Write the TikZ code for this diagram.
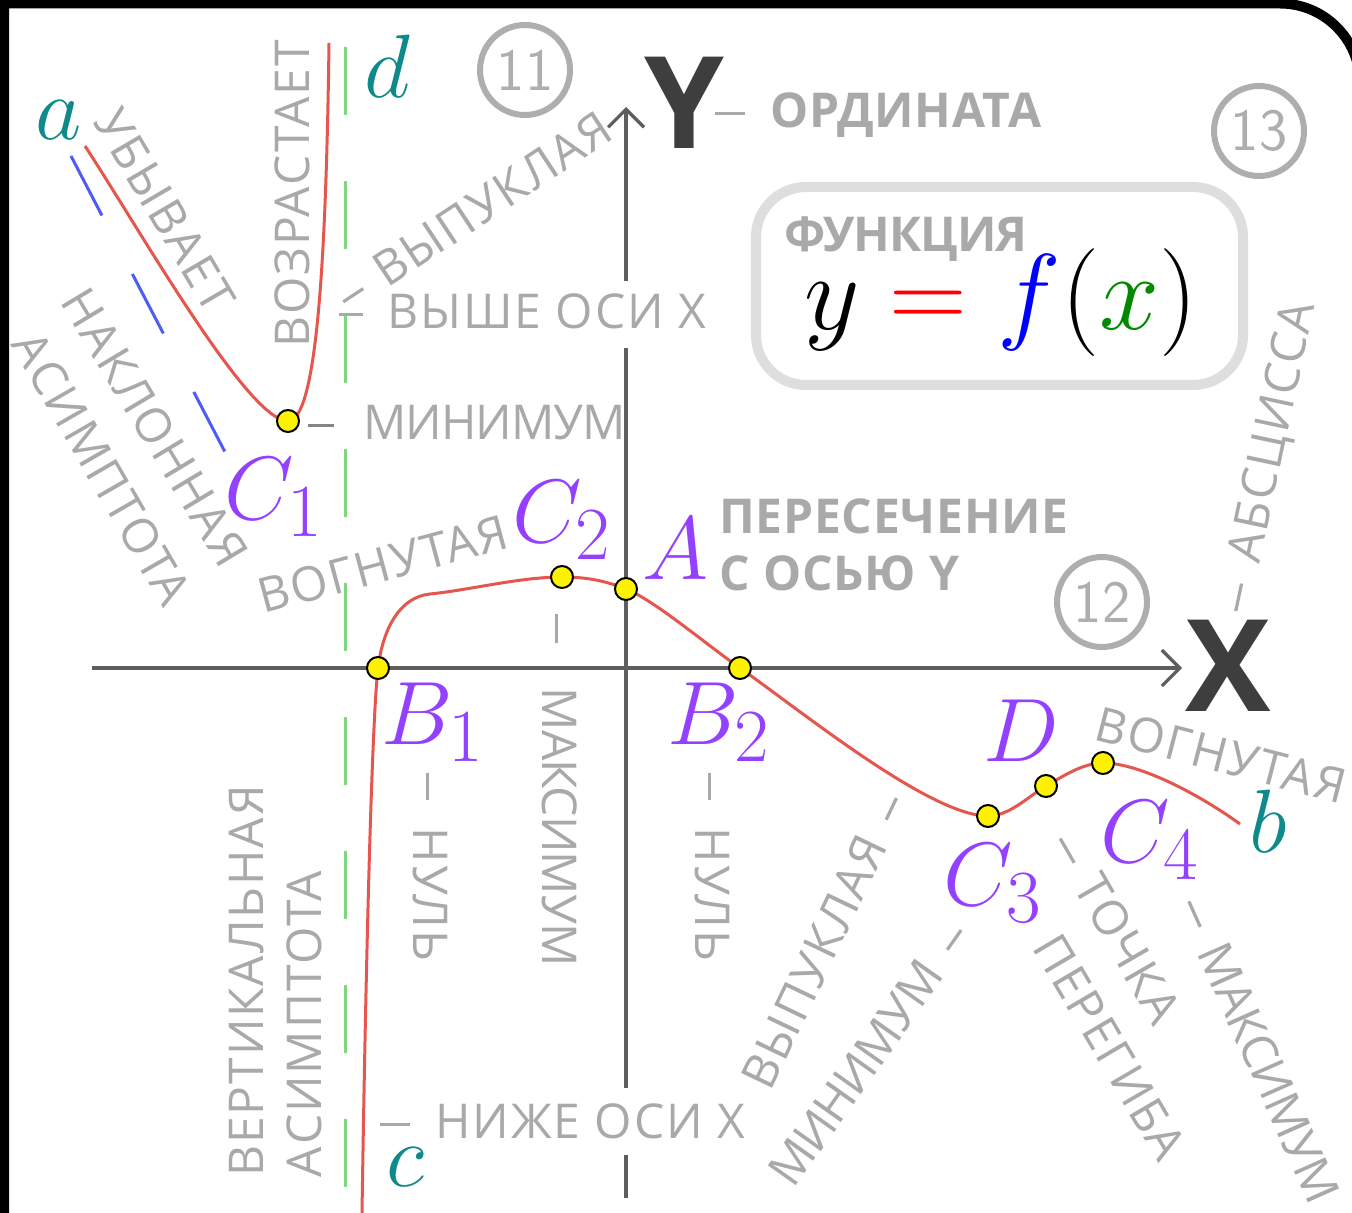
\documentclass[tikz,border=0pt]{standalone}
\usepackage{graphicx}
\usepackage{fontspec}
\usetikzlibrary{arrows.meta}
\newfontfamily\lf{Open Sans}[LetterSpace=4]
\newfontfamily\lfb{Open Sans}[LetterSpace=1.5]
\DeclareMathSizes{20.74}{20.74}{16.6}{12}
\newcommand\mbig[2]{\scalebox{#1}{\fontsize{20.74}{24}\selectfont$#2$}}
% dash drawn as a rule: \dr{length}{gap after}
\newcommand\dr[2]{\rule[6pt]{#1}{1.6pt}\hspace{#2}}
\newcommand\rd[2]{\hspace{#2}\rule[6pt]{#1}{1.6pt}}
\newcommand\mw[1]{{\addfontfeatures{LetterSpace=-2}#1}}
\definecolor{labgray}{HTML}{A9A9A9}
\definecolor{dashdark}{HTML}{858585}
\definecolor{circgray}{HTML}{AEAEAE}
\definecolor{axgray}{HTML}{5E5E5E}
\definecolor{axdark}{HTML}{3E3E3E}
\definecolor{curvered}{HTML}{E5564E}
\definecolor{asgreen}{HTML}{80D680}
\definecolor{asblue}{HTML}{4C5CF5}
\definecolor{tealc}{HTML}{0F8A8A}
\definecolor{purp}{HTML}{9440FF}
\definecolor{boxgray}{HTML}{DEDEDE}
\definecolor{fgreen}{HTML}{008A00}
\tikzset{
  lab/.style={text=labgray, font=\lf\fontsize{24}{33}\selectfont, inner sep=0pt, text height=17.2pt, text depth=0pt},
  labb/.style={lab, font=\lfb\bfseries\fontsize{24}{33}\selectfont},
  mth/.style={inner sep=0pt},
  tl/.style={mth, text=tealc},
  pl/.style={mth, text=purp},
  dot/.style={circle, fill=yellow, draw=black, line width=1pt, minimum size=11pt, inner sep=0pt},
  numc/.style={circle, draw=circgray, line width=3pt, minimum size=45pt, inner sep=0pt, text=circgray, font=\sffamily\fontsize{30}{30}\selectfont},
  axl/.style={text=axdark, font=\lf\bfseries\fontsize{64}{64}\selectfont, inner sep=0pt},
  axis/.style={draw=axgray, line width=2pt},
  axarrow/.style={axis, -{Straight Barb[length=9pt,width=18pt,line width=1.6pt]}},
  fn/.style={draw=curvered, line width=1.5pt},
}
\begin{document}
\begin{tikzpicture}[x=0.5pt, y=-0.5pt]
\useasboundingbox (0,0) rectangle (1352,1213);
\fill[white] (0,0) rectangle (1352,1213);
% frame
\draw[line width=5pt, black] (4,1230) -- (4,3.5) -- (1280,3.5) arc[start angle=90, end angle=0, radius=40pt];

% asymptotes
\coordinate (gv0) at (345,47);
\coordinate (gv1) at (345,1213);
\draw[draw=asgreen, line width=1.5pt, dash pattern=on 34pt off 33pt] (gv0) -- (gv1);
\coordinate (bl0) at (71,156);
\coordinate (bl1) at (225,452);
\draw[draw=asblue, line width=1.5pt, dash pattern=on 33.5pt off 33pt] (bl0) -- (bl1);

% axes
\coordinate (xa0) at (92,668);
\coordinate (xa1) at (1182,668);
\draw[axarrow] (xa0) -- (xa1);
\coordinate (ya0) at (626,1198);
\coordinate (ya1) at (626,1155);
\coordinate (ya2) at (626,1088);
\coordinate (ya3) at (626,348);
\coordinate (ya4) at (626,281);
\coordinate (ya5) at (626,107);
\draw[axis] (ya0) -- (ya1);
\draw[axis] (ya2) -- (ya3);
\draw[axarrow] (ya4) -- (ya5);

% curve points
\coordinate (pa) at (85,146);
\coordinate (pC1) at (288,421);
\coordinate (pd) at (329,43);
\coordinate (pc) at (362,1213);
\coordinate (pB1) at (378,668);
\coordinate (pk) at (430,594);
\coordinate (pC2) at (562,577);
\coordinate (pA) at (626,589);
\coordinate (pB2) at (740,668);
\coordinate (pC3) at (988,816);
\coordinate (pD) at (1046,786);
\coordinate (pC4) at (1103,763);
\coordinate (pb) at (1240,824);

\draw[fn] (pa) .. controls (140,230) and (248,421) .. (pC1)
             .. controls (316,421) and (326,270) .. (pd);
\draw[fn] (pc) .. controls (366,950) and (372,720) .. (pB1)
             .. controls (383,628) and (400,597) .. (pk)
             .. controls (470,590) and (520,577) .. (pC2)
             .. controls (590,577) and (608,582) .. (pA)
             .. controls (654,600) and (707,645) .. (pB2)
             .. controls (800,710) and (930,816) .. (pC3)
             .. controls (1010,816) and (1030,795) .. (pD)
             .. controls (1062,777) and (1082,763) .. (pC4)
             .. controls (1140,763) and (1200,795) .. (pb);

% box
\node[draw=boxgray, line width=5pt, rounded corners=25pt, minimum width=243.5pt, minimum height=99pt, inner sep=0pt] (fbox) at (999.5,286) {};
\node[labb, anchor=west] (funk) at (784,234.5) {{\addfontfeatures{LetterSpace=-2}ФУНКЦИЯ}};
\node[inner sep=0pt] (formula) at (1001,303)
  {\mbig{2.6}{y \mathrel{\textcolor{red}{=}} \textcolor{blue}{f}(\textcolor{fgreen}{x})}};

% circled numbers
\node[numc] (n11) at (525,70) {11};
\node[numc] (n13) at (1259,131) {13};
\node[numc] (n12) at (1102,602) {12};

% axis letters
\node[axl] (Ylab) at (684,103) {Y};
\node[axl] (Xlab) at (1228,666) {X};

% labels
\node[labb, anchor=west] (ordin) at (715,110) {\dr{15pt}{12.5pt}ОРДИНАТА};
\node[labb, anchor=west] (peres) at (719,516.5) {ПЕРЕСЕЧЕНИЕ};
\node[labb, anchor=west] (sosyu) at (719,573.5) {С ОСЬЮ Y};
\node[lab, anchor=west] (vyshe) at (339,311) {\dr{12pt}{12pt}ВЫШЕ ОСИ X};
\node[lab, rotate=33.5] (vypuk1) at (474,211) {\dr{12pt}{10pt}ВЫПУКЛАЯ};
\node[lab, rotate=90] (vozr) at (292,194) {ВОЗРАСТАЕТ};
\node[lab, rotate=-59.5] (ubyv) at (165,210) {УБЫВАЕТ};
\node[lab, rotate=-59] (nakl) at (155,427) {НАКЛОННАЯ};
\node[lab, rotate=-60] (asim1) at (102,468) {АСИМПТОТА};
\node[lab, anchor=west] (min1) at (308,422) {\textcolor{dashdark}{\dr{13pt}{14.5pt}}\mw{МИНИМУМ}};
\node[lab, rotate=15] (vogn1) at (383,564) {ВОГНУТАЯ};
\node[lab, rotate=90] (vert) at (246,981) {ВЕРТИКАЛЬНАЯ};
\node[lab, rotate=90] (asim2) at (304,1024) {АСИМПТОТА};
\node[lab, rotate=-90] (nul1) at (431,867) {\dr{13.5pt}{14pt}НУЛЬ};
\node[lab, rotate=-90] (max1) at (560,790) {\dr{14.5pt}{22.5pt}\mw{МАКСИМУМ}};
\node[lab, rotate=-90] (nul2) at (713,867) {\dr{13.5pt}{14pt}НУЛЬ};
\node[lab, anchor=west] (nizhe) at (380,1121) {\dr{15pt}{12.5pt}НИЖЕ ОСИ X};
\node[lab, rotate=64.4] (vypuk2) at (824,941) {ВЫПУКЛАЯ\rd{12pt}{11pt}};
\node[lab, rotate=54.7] (min2) at (869,1054) {\mw{МИНИМУМ}\rd{12pt}{11pt}};
\node[lab, rotate=-14.5] (vogn2) at (1221,755) {ВОГНУТАЯ};
\node[lab, rotate=-60] (tochka) at (1116,928) {\dr{14pt}{10pt}ТОЧКА};
\node[lab, rotate=-59.5] (peregib) at (1110,1047) {ПЕРЕГИБА};
\node[lab, rotate=-66] (max2) at (1259,1050) {\dr{14pt}{11pt}\mw{МАКСИМУМ}};
\node[lab, rotate=78] (absc) at (1265,456) {\dr{14pt}{11pt}АБСЦИССА};

% math letters
\node[tl] (la) at (59,120) {\mbig{2.17}{a}};
\node[tl] (ld) at (387,66) {\mbig{2.17}{d}};
\node[tl] (lc) at (405,1167) {\mbig{2.17}{c}};
\node[tl] (lb) at (1268,821) {\mbig{2.17}{b}};
\node[pl] (lC1) at (274,497) {\mbig{2.17}{C_1}};
\node[pl] (lC2) at (562,520) {\mbig{2.17}{C_2}};
\node[pl] (lA) at (676,549) {\mbig{2.17}{A}};
\node[pl] (lB1) at (433,722) {\mbig{2.17}{B_1}};
\node[pl] (lB2) at (719,722) {\mbig{2.17}{B_2}};
\node[pl] (lD) at (1021,731) {\mbig{2.17}{D}};
\node[pl] (lC3) at (993,883) {\mbig{2.17}{C_3}};
\node[pl] (lC4) at (1150,840) {\mbig{2.17}{C_4}};

% points
\node[dot] (C1) at (pC1) {};
\node[dot] (B1) at (pB1) {};
\node[dot] (C2) at (pC2) {};
\node[dot] (A) at (pA) {};
\node[dot] (B2) at (pB2) {};
\node[dot] (C3) at (pC3) {};
\node[dot] (D) at (pD) {};
\node[dot] (C4) at (pC4) {};
\end{tikzpicture}
\end{document}
